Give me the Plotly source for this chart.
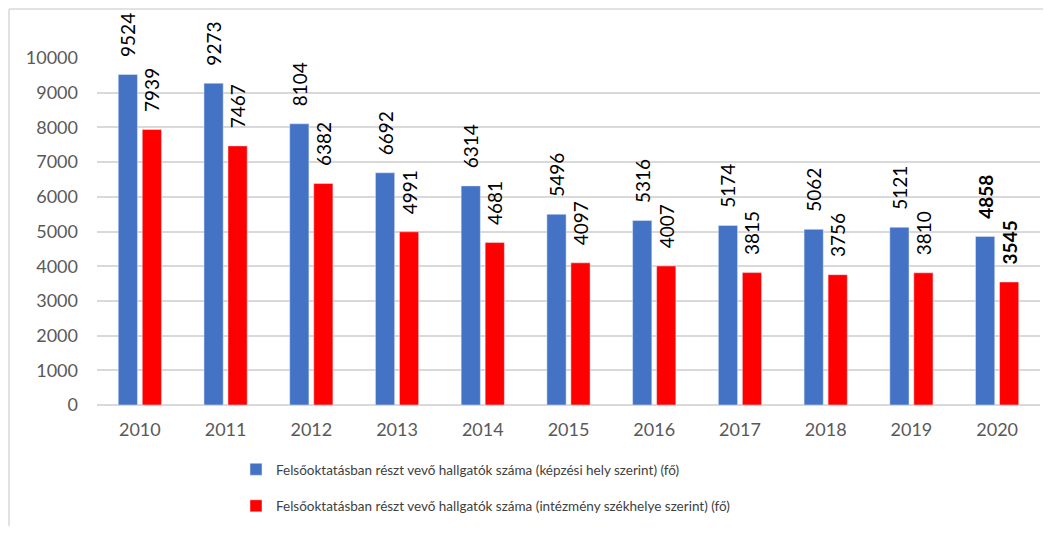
import plotly.graph_objects as go

years = ["2010", "2011", "2012", "2013", "2014", "2015", "2016", "2017", "2018", "2019", "2020"]
kepzesi_hely = [9524, 9273, 8104, 6692, 6314, 5496, 5316, 5174, 5062, 5121, 4858]
szekhely = [7939, 7467, 6382, 4991, 4681, 4097, 4007, 3815, 3756, 3810, 3545]
series_names = [
    "Felsőoktatásban részt vevő hallgatók száma (képzési hely szerint) (fő)",
    "Felsőoktatásban részt vevő hallgatók száma (intézmény székhelye szerint) (fő)",
]
y_ticks = [0, 1000, 2000, 3000, 4000, 5000, 6000, 7000, 8000, 9000, 10000]

FONT = "Lato, 'Open Sans', sans-serif"


def labels(vals):
    out = []
    for i, v in enumerate(vals):
        s = f"<b>{v}</b>" if i == len(vals) - 1 else str(v)
        out.append("\u00a0\u00a0\u00a0" + s)
    return out


fig = go.Figure()
for name, vals, color, grp in [
    (series_names[0], kepzesi_hely, "#4472C4", "a"),
    (series_names[1], szekhely, "#FF0000", "b"),
]:
    fig.add_trace(go.Bar(
        x=years, y=vals, name=name, marker_color=color, legendgroup=grp,
        text=labels(vals), textposition="outside", textangle=-90,
        textfont=dict(family=FONT, size=19, color="#000000"),
        constraintext="none", cliponaxis=False,
    ))

# page body has an 8px margin; figure sized to fit window without scrollbars
OFF = 8
W, H = 1051 - 2 * OFF, 534 - 2 * OFF
L = 97 - OFF
T = 58 - OFF
R = W - (1040 - OFF)
B = H - (405 - OFF)
pw, ph = W - L - R, H - T - B
bx = 9 - OFF
by = 9 - OFF
x0 = (bx - L) / pw
x1 = (W + OFF - L) / pw
ytop = (H - B - by) / ph
ybot = -(B + OFF) / ph

leg_x = (236 - OFF - L) / pw
leg_y = -(454 - 405) / ph

fig.update_layout(
    width=W, height=H,
    margin=dict(l=L, r=R, t=T, b=B, pad=0, autoexpand=False),
    paper_bgcolor="white", plot_bgcolor="white",
    barmode="group", bargap=0.44, bargroupgap=0.2,
    font=dict(family=FONT, color="#595959"),
    showlegend=True,
    legend=dict(
        orientation="v", x=leg_x, y=leg_y, xanchor="left", yanchor="top",
        font=dict(family=FONT, size=13.5, color="#404040"),
        tracegroupgap=16, itemwidth=30, bgcolor="rgba(0,0,0,0)",
    ),
    xaxis=dict(
        showgrid=False, showline=False, ticks="",
        tickfont=dict(family=FONT, size=18, color="#595959"),
        ticklabelstandoff=12,
    ),
    yaxis=dict(
        range=[0, 10000], tickvals=y_ticks, ticktext=[str(v) for v in y_ticks],
        showgrid=True, gridcolor="#D9D9D9", gridwidth=1.5,
        zeroline=True, zerolinecolor="#D9D9D9", zerolinewidth=1.5,
        showline=False, ticks="",
        tickfont=dict(family=FONT, size=18, color="#595959"),
        ticklabelstandoff=18,
    ),
    shapes=[
        dict(type="line", xref="paper", yref="paper", x0=x0, x1=x0, y0=ybot, y1=ytop,
             line=dict(color="#D9D9D9", width=1.5)),
        dict(type="line", xref="paper", yref="paper", x0=x0, x1=x1, y0=ytop, y1=ytop,
             line=dict(color="#D9D9D9", width=1.5)),
    ],
)

fig.write_html("out.html")
